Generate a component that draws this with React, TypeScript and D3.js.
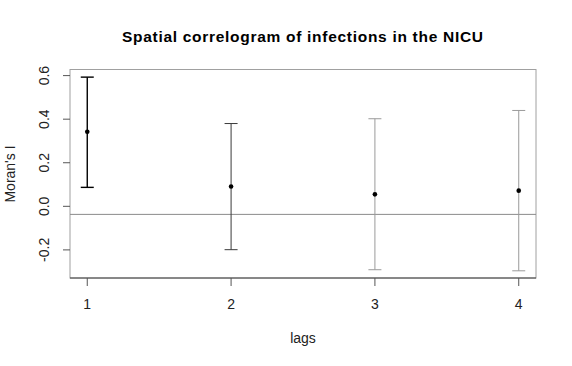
import React from 'react';
import * as d3 from 'd3';

// correlogram values
const lags = [1, 2, 3, 4];
const moranI = [0.342, 0.091, 0.055, 0.072];
const lower = [0.087, -0.199, -0.291, -0.296];
const upper = [0.593, 0.38, 0.402, 0.44];
const barColors = ['#000000', '#3a3a3a', '#9a9a9a', '#9a9a9a'];
const expected = -0.037;
const yTicks = [-0.2, 0.0, 0.2, 0.4, 0.6];

const W = 572, H = 366;
const margin = { left: 70, right: 36, top: 69.5, bottom: 88 };

export default function App() {
  const x = d3.scaleLinear().domain([0.88, 4.12]).range([margin.left, W - margin.right]);
  const y = d3.scaleLinear().domain([-0.329, 0.628]).range([H - margin.bottom, margin.top]);
  const font = 'Liberation Sans, Arial, Helvetica, sans-serif';
  const x0 = margin.left, x1 = W - margin.right;
  const y0 = margin.top, y1 = H - margin.bottom;

  return (
    <svg width={W} height={H} style={{ position: 'absolute', left: 0, top: 0, background: '#fff' }}
      fontFamily={font}>
      <text x={302.5} y={42} textAnchor="middle" fontWeight="bold" fontSize={15.5}
        textLength={361} lengthAdjust="spacing">
        Spatial correlogram of infections in the NICU
      </text>

      {/* plot box */}
      <rect x={x0} y={y0} width={x1 - x0} height={y1 - y0} fill="none" stroke="#a0a0a0" strokeWidth={1} />
      <line x1={x0} x2={x1} y1={y1} y2={y1} stroke="#404040" strokeWidth={1} />

      {/* expected value line */}
      <line x1={x0} x2={x1} y1={y(expected)} y2={y(expected)} stroke="#8a8a8a" strokeWidth={1} />

      {/* y axis */}
      {yTicks.map(t => (
        <g key={t}>
          <line x1={x0 - 7} x2={x0} y1={y(t)} y2={y(t)} stroke="#555" />
          <text transform={`translate(${49.3},${y(t)}) rotate(-90)`} textAnchor="middle" fontSize={14} fill="#222">
            {t.toFixed(1)}
          </text>
        </g>
      ))}
      <text transform={`translate(${15},${174}) rotate(-90)`} textAnchor="middle" fontSize={14} fill="#222">
        Moran's  I
      </text>

      {/* x axis */}
      {lags.map(l => (
        <g key={l}>
          <line x1={x(l)} x2={x(l)} y1={y1} y2={y1 + 8} stroke="#555" />
          <text x={x(l)} y={309.3} textAnchor="middle" fontSize={14} fill="#222">{l}</text>
        </g>
      ))}
      <text x={(x0 + x1) / 2} y={342.5} textAnchor="middle" fontSize={14} fill="#222">lags</text>

      {/* error bars */}
      {lags.map((l, i) => (
        <g key={l} stroke={barColors[i]} strokeWidth={i === 0 ? 1.4 : 1}>
          <line x1={x(l)} x2={x(l)} y1={y(lower[i])} y2={y(upper[i])} />
          <line x1={x(l) - 6.5} x2={x(l) + 6.5} y1={y(lower[i])} y2={y(lower[i])} />
          <line x1={x(l) - 6.5} x2={x(l) + 6.5} y1={y(upper[i])} y2={y(upper[i])} />
        </g>
      ))}
      {lags.map((l, i) => (
        <circle key={l} cx={x(l)} cy={y(moranI[i])} r={2.3} fill="#000" />
      ))}
    </svg>
  );
}
